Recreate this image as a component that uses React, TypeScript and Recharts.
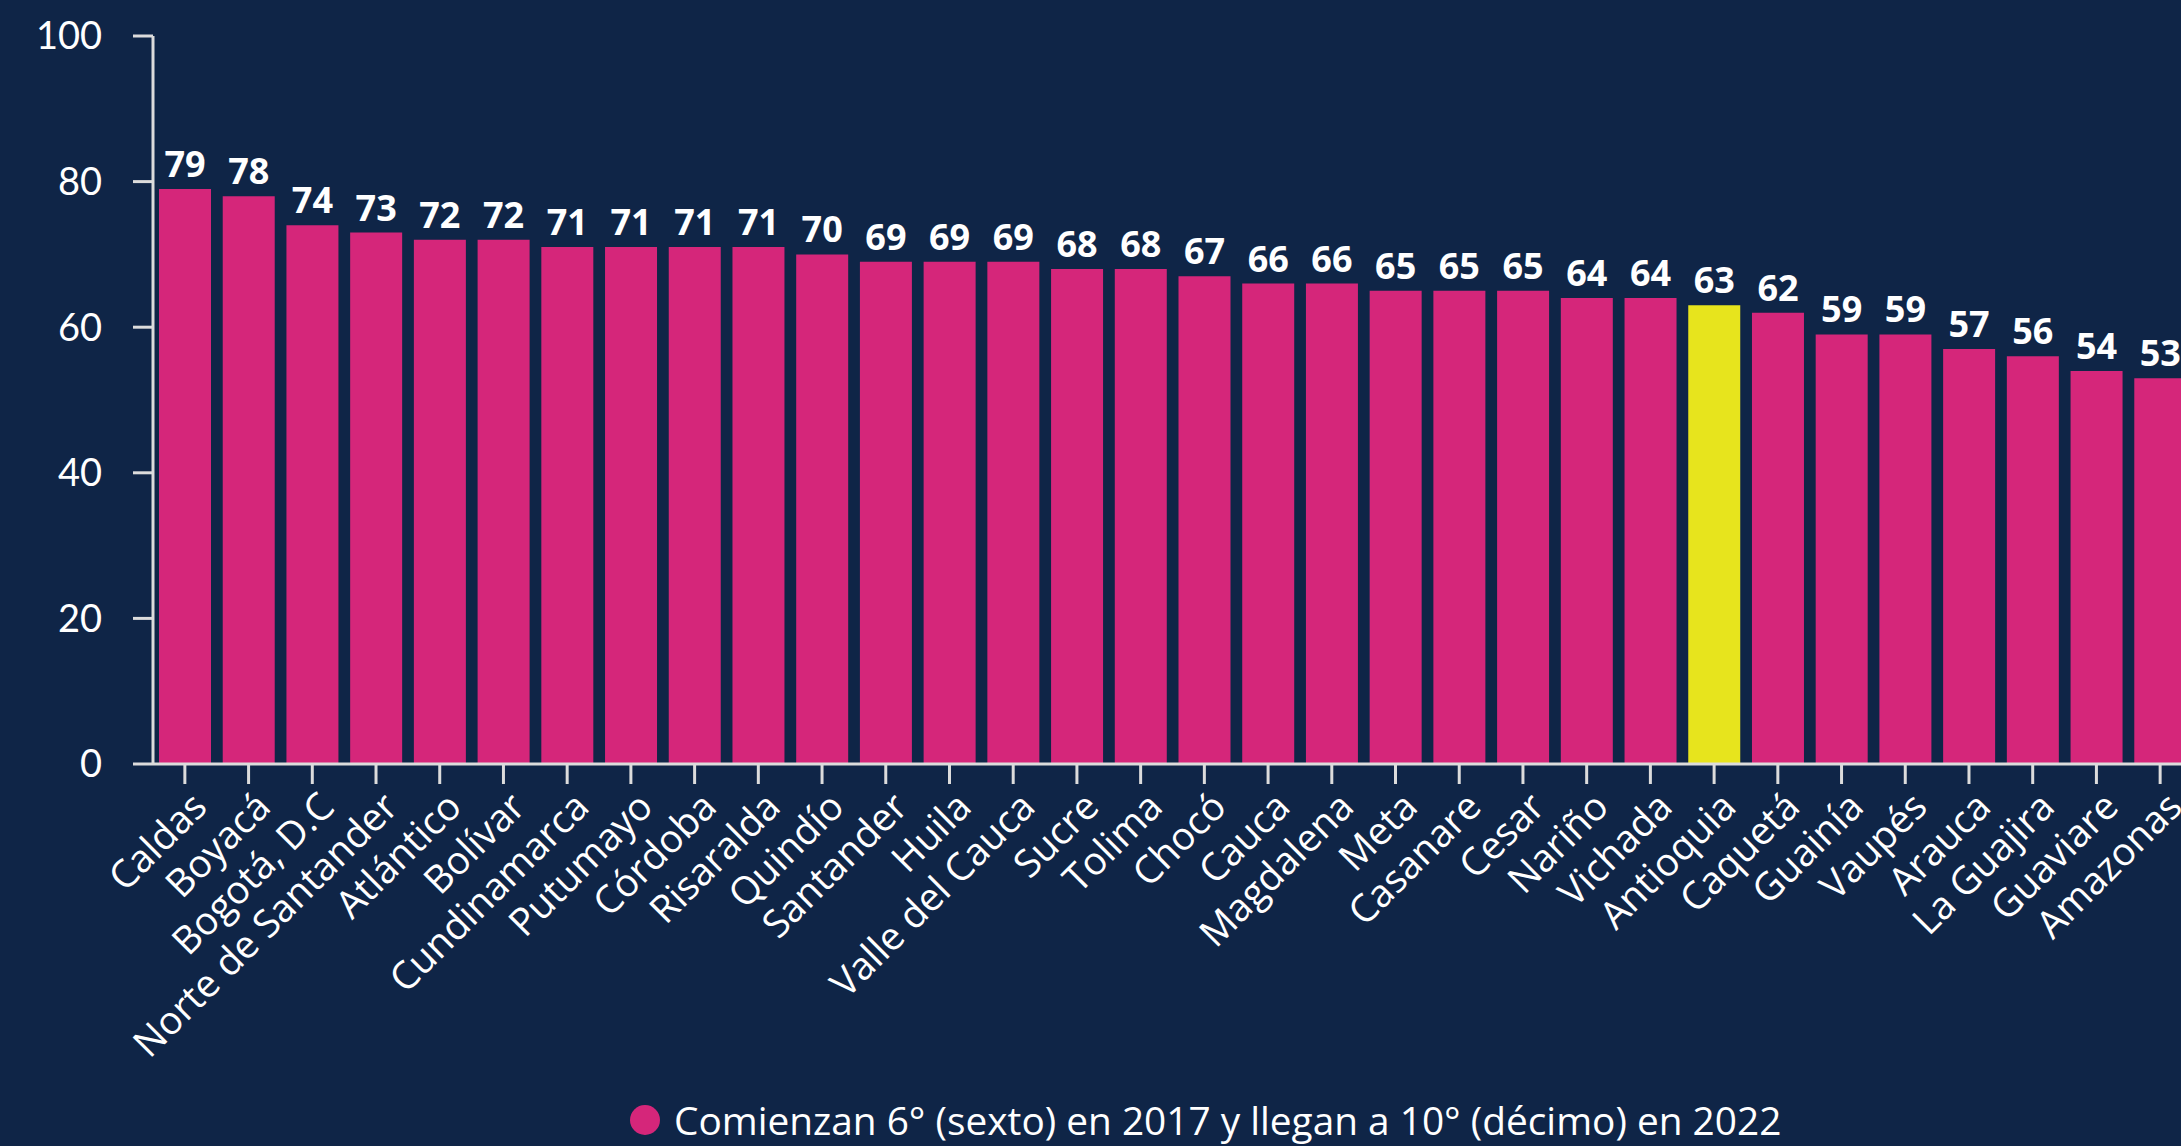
import { Bar, BarChart, Cell, LabelList, Legend, XAxis, YAxis } from "recharts";

const departamentos = [
  "Caldas", "Boyacá", "Bogotá, D.C", "Norte de Santander", "Atlántico", "Bolívar",
  "Cundinamarca", "Putumayo", "Córdoba", "Risaralda", "Quindío", "Santander",
  "Huila", "Valle del Cauca", "Sucre", "Tolima", "Chocó", "Cauca", "Magdalena",
  "Meta", "Casanare", "Cesar", "Nariño", "Vichada", "Antioquia", "Caquetá",
  "Guainía", "Vaupés", "Arauca", "La Guajira", "Guaviare", "Amazonas",
];

const porcentajes = [
  79, 78, 74, 73, 72, 72, 71, 71, 71, 71, 70, 69, 69, 69, 68, 68, 67, 66, 66,
  65, 65, 65, 64, 64, 63, 62, 59, 59, 57, 56, 54, 53,
];

const yTicks = [0, 20, 40, 60, 80, 100];
const destacado = "Antioquia";
const leyenda = "Comienzan 6° (sexto) en 2017 y llegan a 10° (décimo) en 2022";

const BG = "#0f2547";
const PINK = "#d5267a";
const YELLOW = "#e7e41d";
const AXIS = "#dcdcdc";
const FONT = "Lato, 'Open Sans', sans-serif";
const WIDE = "'Open Sans', Lato, sans-serif";

const data = departamentos.map((name, i) => ({ name, value: porcentajes[i] }));

function CategoryTick({ x, y, payload }: any) {
  return (
    <g transform={`translate(${x + 24},${y + 23}) rotate(-45)`}>
      <text x={0} y={0} textAnchor="end" fill="#ffffff" fontSize={38.5} fontFamily={WIDE}>
        {payload.value}
      </text>
    </g>
  );
}

function LegendContent() {
  return (
    <div style={{ display: "flex", alignItems: "center", whiteSpace: "nowrap" }}>
      <svg width={32} height={32} style={{ marginRight: 13 }}>
        <circle cx={16} cy={16} r={15} fill={PINK} />
      </svg>
      <span style={{ color: "#ffffff", fontSize: 38.8, fontFamily: WIDE }}>{leyenda}</span>
    </div>
  );
}

export default function App() {
  return (
    <div
      style={{
        position: "fixed",
        left: 0,
        top: 0,
        width: 2181,
        height: 1146,
        overflow: "hidden",
        background: BG,
      }}
    >
      <BarChart
        width={2192}
        height={1146}
        data={data}
        margin={{ top: 36, right: 0, bottom: 0, left: 0 }}
      >
        <XAxis
          dataKey="name"
          interval={0}
          height={382}
          tickSize={20}
          axisLine={{ stroke: AXIS, strokeWidth: 3 }}
          tickLine={{ stroke: AXIS, strokeWidth: 3 }}
          tick={<CategoryTick />}
        />
        <YAxis
          width={153}
          domain={[0, 100]}
          ticks={yTicks}
          tickSize={20}
          tickMargin={31}
          axisLine={{ stroke: AXIS, strokeWidth: 3 }}
          tickLine={{ stroke: AXIS, strokeWidth: 3 }}
          tick={{ fill: "#ffffff", fontSize: 38, fontFamily: FONT }}
        />
        <Legend
          content={<LegendContent />}
          wrapperStyle={{ left: 629, top: 1094, width: "auto", height: 0 }}
        />
        <Bar dataKey="value" barSize={52} isAnimationActive={false}>
          {data.map((d) => (
            <Cell key={d.name} fill={d.name === destacado ? YELLOW : PINK} />
          ))}
          <LabelList
            dataKey="value"
            position="top"
            offset={12}
            fill="#ffffff"
            fontSize={36}
            fontWeight={700}
            fontFamily={WIDE}
          />
        </Bar>
      </BarChart>
    </div>
  );
}
